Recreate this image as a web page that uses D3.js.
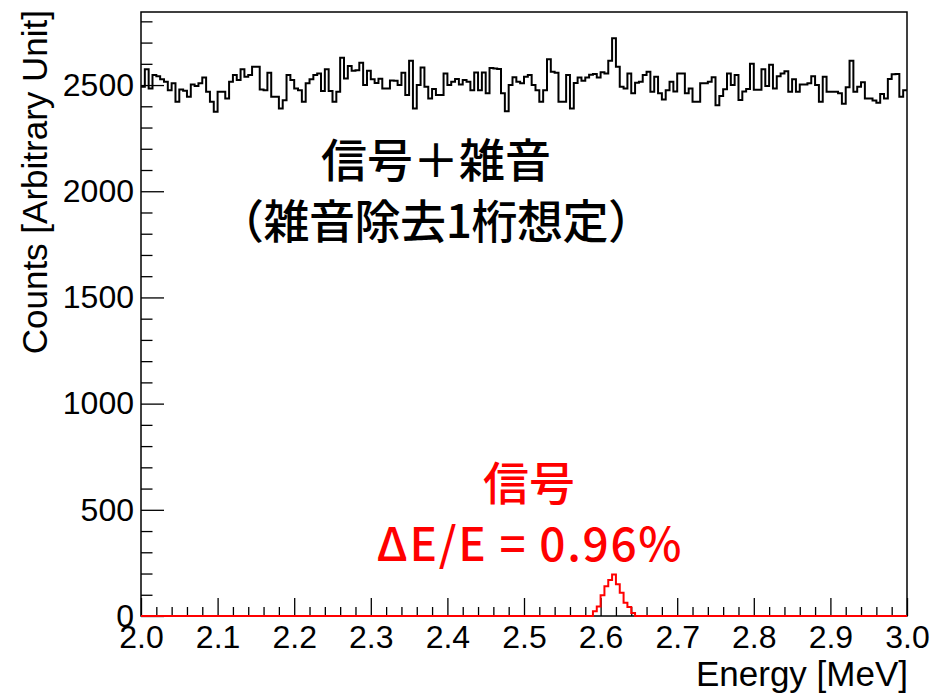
<!DOCTYPE html>
<html>
<head>
<meta charset="utf-8">
<script src="https://cdn.jsdelivr.net/npm/d3@7"></script>
<style>
  html, body { margin: 0; padding: 0; background: #fff; }
  svg { display: block; }
</style>
</head>
<body>
<svg id="chart" width="935" height="693"></svg>
<script>
// Energy axis: 200 bins of 5 keV from 2.0 to 3.0 MeV
const energyRange = [2.0, 3.0];
const binWidth = 0.005;

// Signal + noise spectrum (counts per bin, left to right)
const totalCounts = [
  2492, 2574, 2484, 2547, 2542, 2527, 2516, 2476, 2508, 2421,
  2479, 2473, 2445, 2503, 2495, 2508, 2536, 2468, 2421, 2374,
  2468, 2468, 2437, 2516, 2547, 2524, 2574, 2539, 2547, 2586,
  2586, 2479, 2476, 2558, 2445, 2445, 2390, 2429, 2547, 2524,
  2484, 2476, 2421, 2508, 2527, 2547, 2555, 2472, 2574, 2472,
  2421, 2468, 2628, 2531, 2590, 2567, 2570, 2605, 2500, 2567,
  2527, 2510, 2530, 2484, 2484, 2522, 2520, 2500, 2558, 2453,
  2614, 2390, 2500, 2583, 2492, 2437, 2482, 2453, 2453, 2555,
  2500, 2516, 2529, 2503, 2524, 2516, 2476, 2559, 2476, 2559,
  2462, 2580, 2578, 2576, 2461, 2377, 2500, 2537, 2516, 2508,
  2539, 2547, 2500, 2476, 2421, 2476, 2621, 2563, 2558, 2421,
  2421, 2547, 2390, 2510, 2535, 2520, 2535, 2548, 2552, 2535,
  2560, 2555, 2615, 2720, 2586, 2492, 2484, 2555, 2461, 2511,
  2516, 2547, 2563, 2468, 2539, 2461, 2432, 2476, 2516, 2470,
  2555, 2555, 2461, 2484, 2421, 2421, 2508, 2508, 2516, 2537,
  2405, 2448, 2480, 2555, 2500, 2547, 2430, 2470, 2482, 2600,
  2478, 2478, 2575, 2495, 2596, 2484, 2542, 2555, 2565, 2468,
  2527, 2468, 2503, 2503, 2508, 2542, 2500, 2421, 2539, 2468,
  2468, 2468, 2461, 2412, 2490, 2614, 2468, 2492, 2513, 2437,
  2437, 2427, 2417, 2458, 2437, 2529, 2551, 2552, 2445, 2476
];

// Signal-only peak: lower bin edges (MeV) and counts; every other bin is empty
const signalLowEdges = [2.590, 2.595, 2.600, 2.605, 2.610, 2.615, 2.620, 2.625, 2.630, 2.635, 2.640];
const signalCounts   = [22, 45, 98, 140, 170, 195, 150, 110, 62, 42, 14];

// Axis ticks
const xMajorTicks = [2.0, 2.1, 2.2, 2.3, 2.4, 2.5, 2.6, 2.7, 2.8, 2.9, 3.0];
const yMajorTicks = [0, 500, 1000, 1500, 2000, 2500];
const yMax = 2844;

// Labels
const xTitle = "Energy [MeV]";
const yTitle = "Counts [Arbitrary Unit]";
const totalLabel = ["信号＋雑音", "（雑音除去1桁想定）"];
const signalLabel = ["信号", "ΔE/E = 0.96%"];

const svg = d3.select("#chart");
const frame = { left: 141, right: 907, top: 12, bottom: 616 };

const x = d3.scaleLinear().domain(energyRange).range([frame.left, frame.right]);
const y = d3.scaleLinear().domain([0, yMax]).range([frame.bottom, frame.top]);

const nBins = totalCounts.length;
const lowEdges = d3.range(nBins).map(i => energyRange[0] + i * binWidth);

// Expand the signal peak over the full binning
const signalFull = lowEdges.map(e => {
  const k = signalLowEdges.findIndex(s => Math.abs(s - e) < binWidth / 2);
  return k >= 0 ? signalCounts[k] : 0;
});

function stepPoints(counts) {
  const pts = counts.map((c, i) => [lowEdges[i], c]);
  pts.push([energyRange[1], counts[counts.length - 1]]);
  return pts;
}

const stepLine = d3.line()
  .x(d => x(d[0]))
  .y(d => y(d[1]))
  .curve(d3.curveStepAfter);

const tickFont = "'Liberation Sans', Arial, Helvetica, sans-serif";

// X axis: major ticks with labels, minor ticks every 0.02
const xMinor = d3.range(0, 51).map(i => energyRange[0] + i * 0.02)
  .filter(v => !xMajorTicks.some(m => Math.abs(m - v) < 1e-9));

svg.append("g")
  .attr("transform", `translate(0,${frame.bottom})`)
  .call(d3.axisBottom(x).tickValues(xMinor).tickSize(-9).tickFormat(""))
  .call(g => g.select(".domain").remove())
  .call(g => g.selectAll("line").attr("stroke", "#000").attr("stroke-width", 1.3));

svg.append("g")
  .attr("transform", `translate(0,${frame.bottom})`)
  .call(d3.axisBottom(x).tickValues(xMajorTicks).tickSize(-18).tickPadding(9)
    .tickFormat(d3.format(".1f")))
  .call(g => g.select(".domain").remove())
  .call(g => g.selectAll("line").attr("stroke", "#000").attr("stroke-width", 1.3))
  .call(g => g.selectAll("text")
    .attr("font-family", tickFont).attr("font-size", 32).attr("fill", "#000"));

// Y axis: major every 500, minor every 100
const yMinor = d3.range(0, 2801, 100).filter(v => v % 500 !== 0);

svg.append("g")
  .attr("transform", `translate(${frame.left},0)`)
  .call(d3.axisLeft(y).tickValues(yMinor).tickSize(-11.5).tickFormat(""))
  .call(g => g.select(".domain").remove())
  .call(g => g.selectAll("line").attr("stroke", "#000").attr("stroke-width", 1.3));

svg.append("g")
  .attr("transform", `translate(${frame.left},0)`)
  .call(d3.axisLeft(y).tickValues(yMajorTicks).tickSize(-23).tickPadding(7)
    .tickFormat(d3.format("d")))
  .call(g => g.select(".domain").remove())
  .call(g => g.selectAll("line").attr("stroke", "#000").attr("stroke-width", 1.3))
  .call(g => g.selectAll("text")
    .attr("font-family", tickFont).attr("font-size", 32).attr("fill", "#000"));

// Frame
svg.append("rect")
  .attr("x", frame.left).attr("y", frame.top)
  .attr("width", frame.right - frame.left).attr("height", frame.bottom - frame.top)
  .attr("fill", "none").attr("stroke", "#000").attr("stroke-width", 1.5);

// Histograms
svg.append("path")
  .attr("d", stepLine(stepPoints(totalCounts)))
  .attr("fill", "none").attr("stroke", "#000").attr("stroke-width", 2);

svg.append("path")
  .attr("d", stepLine(stepPoints(signalFull)))
  .attr("fill", "none").attr("stroke", "#ff0000").attr("stroke-width", 2);

// Axis titles
svg.append("text")
  .attr("x", frame.right + 1).attr("y", 686)
  .attr("text-anchor", "end")
  .attr("font-family", tickFont).attr("font-size", 35).attr("fill", "#000")
  .text(xTitle);

svg.append("text")
  .attr("transform", "translate(47,10) rotate(-90)")
  .attr("text-anchor", "end")
  .attr("font-family", tickFont).attr("font-size", 35).attr("fill", "#000")
  .text(yTitle);

// Annotations (second line of each block is spread to its full width)
const cjkFont = "'Noto Sans CJK JP', 'Noto Sans CJK SC', sans-serif";
const totalWidths = [null, 436];
const signalWidths = [null, 305];

svg.append("g").selectAll("text")
  .data(totalLabel)
  .join("text")
  .attr("x", 436)
  .attr("y", (d, i) => 157 + i * 61)
  .attr("text-anchor", "middle")
  .attr("dominant-baseline", "central")
  .attr("font-family", cjkFont).attr("font-weight", 500)
  .attr("font-size", 46).attr("fill", "#000")
  .each(function (d, i) {
    if (totalWidths[i]) d3.select(this).attr("textLength", totalWidths[i]).attr("lengthAdjust", "spacing");
  })
  .text(d => d);

svg.append("g").selectAll("text")
  .data(signalLabel)
  .join("text")
  .attr("x", 529)
  .attr("y", (d, i) => 480 + i * 61)
  .attr("text-anchor", "middle")
  .attr("dominant-baseline", "central")
  .attr("font-family", cjkFont).attr("font-weight", 500)
  .attr("font-size", 46).attr("fill", "#ff0000")
  .each(function (d, i) {
    if (signalWidths[i]) d3.select(this).attr("textLength", signalWidths[i]).attr("lengthAdjust", "spacing");
  })
  .text(d => d);
</script>
</body>
</html>
